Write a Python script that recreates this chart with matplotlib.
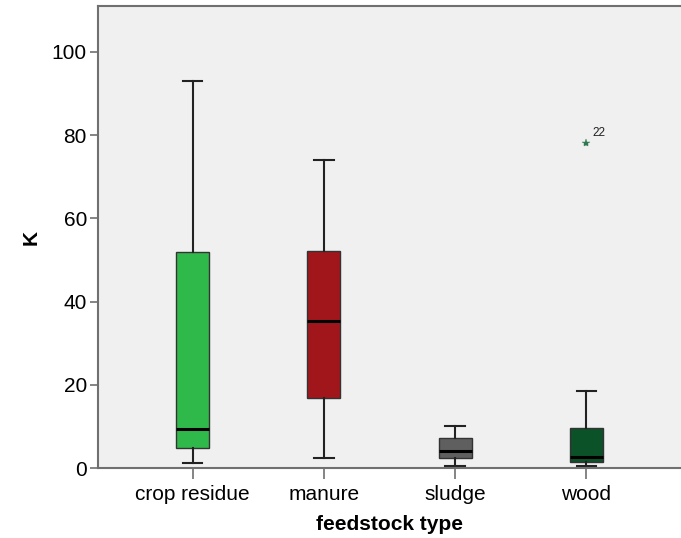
import matplotlib
matplotlib.use('Agg')
import matplotlib.pyplot as plt

plt.rcParams['font.family'] = ['Liberation Sans', 'DejaVu Sans']

# box statistics
categories = ['crop residue', 'manure', 'sludge', 'wood']
whisker_low = [1.3, 2.3, 0.6, 0.4]
q1 = [4.7, 16.9, 2.3, 1.4]
medians = [9.4, 35.3, 4.2, 2.6]
q3 = [52.0, 52.2, 7.1, 9.6]
whisker_high = [93.0, 74.0, 10.0, 18.6]
outliers = [[], [], [], [78.0]]
outlier_labels = [[], [], [], ['22']]
colors = ['#2fb94a', '#a1161b', '#5f5f5f', '#0b5228']

stats = []
for i, c in enumerate(categories):
    stats.append(dict(label=c, whislo=whisker_low[i], q1=q1[i], med=medians[i],
                      q3=q3[i], whishi=whisker_high[i], fliers=[]))

fig = plt.figure(figsize=(6.81, 5.38), dpi=100)
ax = fig.add_axes([0.1439, 0.1301, 0.8561, 0.8587])
ax.set_facecolor('#f0f0f0')

pos = list(range(1, len(categories) + 1))
bp = ax.bxp(stats, positions=pos, widths=0.25, patch_artist=True,
            showfliers=False,
            boxprops=dict(edgecolor='#333333', linewidth=1.0),
            medianprops=dict(color='black', linewidth=2.2),
            whiskerprops=dict(color='#222222', linewidth=1.5),
            capprops=dict(color='#222222', linewidth=1.5),
            capwidths=0.15)
for patch, col in zip(bp['boxes'], colors):
    patch.set_facecolor(col)

for i, vals in enumerate(outliers):
    for v, lab in zip(vals, outlier_labels[i]):
        ax.plot(pos[i], v, marker='*', color='#2f7a50', markersize=6,
                markeredgewidth=0.3, linestyle='none')
        ax.annotate(lab, (pos[i], v), xytext=(4, 5), textcoords='offset points',
                    fontsize=8.5, color='#222222')

ax.set_xlim(0.28, 4.72)
ax.set_ylim(0, 111)
ax.set_yticks([0, 20, 40, 60, 80, 100])
ax.set_xticks(pos)
ax.set_xticklabels(categories)
ax.tick_params(axis='both', labelsize=15, colors='#707070', labelcolor='black')
ax.tick_params(axis='y', length=6, width=1.2, pad=2)
ax.tick_params(axis='x', length=8, width=1.2, pad=4)
for s in ['left', 'top', 'bottom']:
    ax.spines[s].set_color('#707070')
    ax.spines[s].set_linewidth(1.5)
ax.spines['right'].set_visible(False)

ax.set_xlabel('feedstock type', fontsize=15, fontweight='bold', labelpad=8)
ax.set_ylabel('K', fontsize=15, fontweight='bold', labelpad=8)

fig.savefig('out.png', dpi=100)
